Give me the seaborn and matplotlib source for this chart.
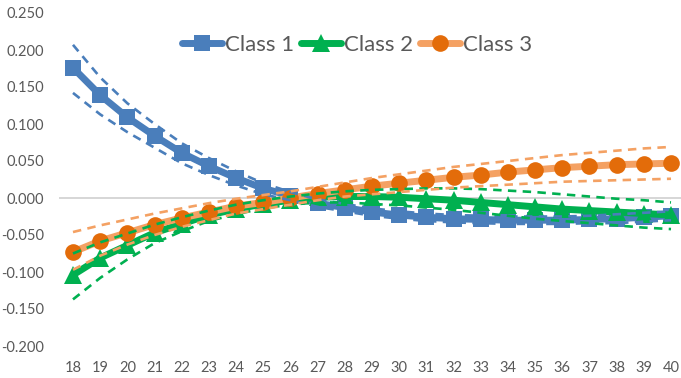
import numpy as np
import pandas as pd
import matplotlib
matplotlib.use("Agg")
import matplotlib.pyplot as plt
import seaborn as sns
from matplotlib.lines import Line2D

# Age on the horizontal axis
ages = list(range(18, 41))

# Estimated effect per class
class1 = [0.176, 0.139, 0.109, 0.084, 0.061, 0.043, 0.027, 0.013, 0.003, -0.007,
          -0.013, -0.019, -0.023, -0.026, -0.028, -0.029, -0.030, -0.030, -0.030,
          -0.029, -0.028, -0.026, -0.024]
class2 = [-0.104, -0.081, -0.064, -0.047, -0.035, -0.023, -0.015, -0.008, -0.003, 0.001,
          0.002, 0.002, 0.001, -0.001, -0.003, -0.006, -0.009, -0.012, -0.015,
          -0.017, -0.019, -0.021, -0.023]
class3 = [-0.073, -0.058, -0.047, -0.036, -0.027, -0.019, -0.011, -0.006, 0.000, 0.006,
          0.011, 0.016, 0.020, 0.024, 0.028, 0.031, 0.035, 0.038, 0.041,
          0.043, 0.045, 0.046, 0.047]

# Confidence bounds
class1_hi = [0.207, 0.163, 0.128, 0.100, 0.074, 0.054, 0.036, 0.020, 0.008, -0.002,
             -0.008, -0.014, -0.018, -0.021, -0.023, -0.024, -0.025, -0.025, -0.025,
             -0.024, -0.022, -0.020, -0.018]
class1_lo = [0.142, 0.113, 0.089, 0.068, 0.047, 0.031, 0.017, 0.005, -0.003, -0.012,
             -0.018, -0.024, -0.028, -0.031, -0.033, -0.034, -0.035, -0.035, -0.035,
             -0.034, -0.034, -0.032, -0.030]
class2_hi = [-0.075, -0.060, -0.048, -0.036, -0.026, -0.017, -0.009, -0.003, 0.002, 0.006,
             0.009, 0.011, 0.012, 0.013, 0.013, 0.012, 0.010, 0.008, 0.005,
             0.002, -0.001, -0.003, -0.006]
class2_lo = [-0.137, -0.108, -0.083, -0.061, -0.045, -0.031, -0.022, -0.014, -0.009, -0.006,
             -0.006, -0.008, -0.010, -0.013, -0.016, -0.020, -0.024, -0.028, -0.031,
             -0.034, -0.037, -0.040, -0.042]
class3_hi = [-0.046, -0.037, -0.029, -0.021, -0.014, -0.007, -0.001, 0.004, 0.009, 0.015,
             0.021, 0.027, 0.032, 0.037, 0.042, 0.046, 0.050, 0.054, 0.058,
             0.061, 0.064, 0.067, 0.069]
class3_lo = [-0.097, -0.078, -0.063, -0.050, -0.039, -0.030, -0.021, -0.015, -0.009, -0.003,
             0.002, 0.005, 0.008, 0.011, 0.014, 0.016, 0.018, 0.020, 0.022,
             0.023, 0.024, 0.025, 0.026]

series_names = ["Class 1", "Class 2", "Class 3"]
yticks = [-0.2, -0.15, -0.1, -0.05, 0.0, 0.05, 0.1, 0.15, 0.2, 0.25]

sns.set_theme(style="white")
plt.rcParams["font.family"] = ["Lato", "DejaVu Sans"]

fig = plt.figure(figsize=(6.81, 3.78), dpi=100)
ax = fig.add_axes([59.4 / 681, 1 - 346 / 378, (684.6 - 59.4) / 681, (346 - 13) / 378])

blue = "#4a7ebb"
green = "#00b050"
orange_line, orange_mark = "#f4a163", "#e36c0a"

ax.axhline(0, color="#d0d0d0", lw=1.2, zorder=1)

main = pd.DataFrame({"age": ages, "c1": class1, "c2": class2, "c3": class3,
                     "c1h": class1_hi, "c1l": class1_lo,
                     "c2h": class2_hi, "c2l": class2_lo,
                     "c3h": class3_hi, "c3l": class3_lo})

LW, MS = 5.0, 12
sns.lineplot(data=main, x="age", y="c1", ax=ax, color=blue, lw=LW, marker="s",
             markersize=MS, markeredgewidth=0, zorder=3)
sns.lineplot(data=main, x="age", y="c2", ax=ax, color=green, lw=LW, marker="^",
             markersize=MS + 1, markeredgewidth=0, zorder=4)
sns.lineplot(data=main, x="age", y="c3", ax=ax, color=orange_line, lw=LW, marker="o",
             markersize=MS, markerfacecolor=orange_mark, markeredgewidth=0, zorder=5)

for col, c in [("c1h", blue), ("c1l", blue), ("c2h", green),
               ("c2l", green), ("c3h", orange_line), ("c3l", orange_line)]:
    sns.lineplot(data=main, x="age", y=col, ax=ax, color=c, lw=1.9, zorder=6)
    ax.lines[-1].set_dashes([3.2, 2.4])

ax.set_xlim(17.5, 40.5)
ax.set_ylim(-0.2, 0.25)
ax.set_xticks(ages)
ax.set_xticklabels([str(a) for a in ages])
ax.set_yticks(yticks)
ax.set_yticklabels([f"{v:.3f}" for v in yticks])
ax.tick_params(axis="both", length=0, labelsize=10.5, labelcolor="#595959")
ax.tick_params(axis="x", pad=11)
ax.tick_params(axis="y", pad=11)
ax.set_xlabel("")
ax.set_ylabel("")
for s in ax.spines.values():
    s.set_visible(False)

handles = [
    Line2D([], [], color=blue, lw=LW, marker="s", markersize=MS, markeredgewidth=0),
    Line2D([], [], color=green, lw=LW, marker="^", markersize=MS + 1, markeredgewidth=0),
    Line2D([], [], color=orange_line, lw=LW, marker="o", markersize=MS,
           markerfacecolor=orange_mark, markeredgewidth=0),
]
leg = ax.legend(handles, series_names, loc="center", bbox_to_anchor=(357 / 681, 1 - 45 / 378),
                bbox_transform=fig.transFigure, ncol=3, frameon=False, fontsize=16,
                handlelength=1.8, handletextpad=0.15, columnspacing=0.3)
for t in leg.get_texts():
    t.set_color("#595959")

fig.savefig("out.png", dpi=100)
